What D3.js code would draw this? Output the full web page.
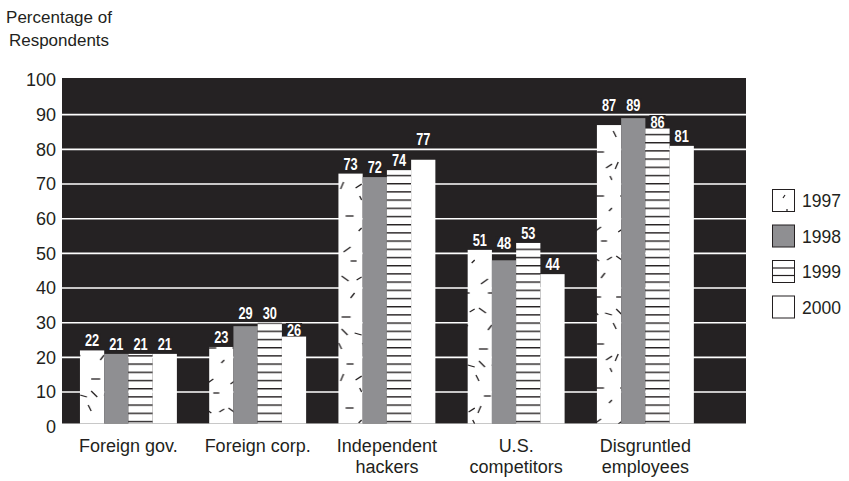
<!DOCTYPE html>
<html>
<head>
<meta charset="utf-8">
<script src="https://cdn.jsdelivr.net/npm/d3@7"></script>
<style>
  html, body { margin: 0; padding: 0; background: #fff; }
  svg { display: block; }
  text { font-family: "Liberation Sans", Arial, Helvetica, sans-serif; fill: #231f20; }
  .val { font-family: "Liberation Sans", Arial, sans-serif; font-weight: bold; fill: #fff; }
</style>
</head>
<body>
<svg id="chart" width="849" height="481"></svg>
<script>
// Threat sources, percentage of respondents by survey year
const categories = [
  ["Foreign gov."],
  ["Foreign corp."],
  ["Independent", "hackers"],
  ["U.S.", "competitors"],
  ["Disgruntled", "employees"]
];
const years = ["1997", "1998", "1999", "2000"];
const values1997 = [22, 23, 73, 51, 87];
const values1998 = [21, 29, 72, 48, 89];
const values1999 = [21, 30, 74, 53, 86];
const values2000 = [21, 26, 77, 44, 81];
const yTicks = [0, 10, 20, 30, 40, 50, 60, 70, 80, 90, 100];
const yTitle = ["Percentage of", "Respondents"];

const seriesValues = [values1997, values1998, values1999, values2000];
const BG = "#252223";
const INK = "#231f20";

const svg = d3.select("#chart");
const defs = svg.append("defs");

// Scales
const plot = { left: 62, right: 746, top: 78, bottom: 423.5 };
const x0 = d3.scaleBand().domain(d3.range(categories.length))
  .range([63.8, 710]).paddingInner(0.25).paddingOuter(0.125);
const x1 = d3.scaleBand().domain(years).range([0, x0.bandwidth()]);
const y = d3.scaleLinear().domain([0, 100]).range([426.7, 80]);

// Scattered dash fill for 1997 (one tile, shifted per group so the marks don't line up)
const dashTile = [
  [9, 2, 16, 2], [3, 19, 6, 12], [18, 18, 24, 14], [22, 26, 24, 30],
  [8, 46, 16, 46], [21, 61, 24, 58], [6, 82, 13, 77], [13, 91, 19, 91],
  [4, 106, 11, 111], [19, 110, 24, 107], [13, 128, 17, 123], [4, 147, 13, 147],
  [4, 159, 10, 165], [17, 163, 24, 165], [1, 173, 4, 179]
];
const TILE_H = 192;
const dashShift = [40, 110, 170, 10, 150];
categories.forEach((c, i) => {
  const p = defs.append("pattern")
    .attr("id", "pat1997-" + i).attr("patternUnits", "userSpaceOnUse")
    .attr("x", x0(i)).attr("y", dashShift[i])
    .attr("width", x1.bandwidth()).attr("height", TILE_H);
  p.append("rect").attr("width", x1.bandwidth()).attr("height", TILE_H).attr("fill", "#fff");
  dashTile.forEach(s => {
    p.append("line")
      .attr("x1", s[0]).attr("y1", s[1]).attr("x2", s[2]).attr("y2", s[3])
      .attr("stroke", INK).attr("stroke-width", 1.3);
  });
});

// Horizontal rule fill for 1999
const rule = defs.append("pattern")
  .attr("id", "pat1999").attr("patternUnits", "userSpaceOnUse")
  .attr("width", 10).attr("height", 8.2).attr("y", 2.6);
rule.append("rect").attr("width", 10).attr("height", 8.2).attr("fill", "#fff");
rule.append("rect").attr("y", 0).attr("width", 10).attr("height", 1.4).attr("fill", INK);

const fillFor = (k, i) => [`url(#pat1997-${i})`, "#8f8f92", "url(#pat1999)", "#ffffff"][k];

// Plot background and gridlines
svg.append("rect")
  .attr("x", plot.left).attr("y", plot.top)
  .attr("width", plot.right - plot.left).attr("height", plot.bottom - plot.top)
  .attr("fill", BG);

const gridValues = yTicks.filter(t => t > 0 && t < 100);
svg.append("g").selectAll("line")
  .data(gridValues)
  .join("line")
  .attr("x1", plot.left).attr("x2", plot.right)
  .attr("y1", d => y(d)).attr("y2", d => y(d))
  .attr("stroke", "#fff").attr("stroke-width", 1.6);

// Y axis labels
const yAxis = d3.axisLeft(y).tickValues(yTicks).tickSize(0).tickPadding(0);
const yg = svg.append("g").attr("transform", "translate(56,0)").call(yAxis);
yg.select(".domain").remove();
yg.selectAll("text").attr("font-size", 18).attr("fill", INK)
  .style("font-family", '"Liberation Sans", Arial, sans-serif');

// Y title
svg.append("text").attr("text-anchor", "middle").attr("font-size", 17)
  .selectAll("tspan").data(yTitle).join("tspan")
  .attr("x", 59).attr("y", (d, i) => 23 + i * 23).text(d => d);

// Bars (standing on the plot floor)
const groups = svg.append("g").selectAll("g")
  .data(categories.map((c, i) => i))
  .join("g")
  .attr("transform", i => `translate(${x0(i)},0)`);

groups.selectAll("rect")
  .data(i => years.map((yr, k) => ({ yr, k, i, v: seriesValues[k][i] })))
  .join("rect")
  .attr("x", d => x1(d.yr))
  .attr("y", d => y(d.v))
  .attr("width", x1.bandwidth())
  .attr("height", d => plot.bottom - y(d.v))
  .attr("fill", d => fillFor(d.k, d.i));

// Value labels: sit just above the bar, but never straddle a gridline
const CAP = 11.5;
function labelBaseline(v) {
  const top = y(v);
  let bl = top - 4;
  const hit = gridValues.map(y).find(g => g >= bl - CAP - 1 && g <= bl + 1);
  if (hit !== undefined) {
    bl = (top - hit >= CAP + 2) ? top - 1 : hit - 4;
  }
  return bl;
}

const labels = svg.append("g");
categories.forEach((c, i) => {
  years.forEach((yr, k) => {
    const v = seriesValues[k][i];
    const cx = x0(i) + x1(yr) + x1.bandwidth() / 2;
    const bl = labelBaseline(v);
    const g = labels.append("g").attr("transform", `translate(${cx},${bl})`);
    const plate = g.append("rect").attr("fill", BG);
    const t = g.append("text").attr("class", "val")
      .attr("transform", "scale(0.8,1)")
      .attr("text-anchor", "middle").attr("font-size", 16)
      .text(v);
    const b = t.node().getBBox();
    plate.attr("x", b.x * 0.8 - 1).attr("y", -CAP - 1)
      .attr("width", b.width * 0.8 + 2).attr("height", CAP + 1.5);
  });
});

// Category labels
svg.append("g").selectAll("text")
  .data(categories.map((c, i) => ({ c, i })))
  .join("text")
  .attr("text-anchor", "middle").attr("font-size", 18)
  .each(function (d) {
    d3.select(this).selectAll("tspan").data(d.c).join("tspan")
      .attr("x", x0(d.i) + x0.bandwidth() / 2)
      .attr("y", (t, j) => 452 + j * 21)
      .text(t => t);
  });

// Legend
const legend = svg.append("g").attr("transform", "translate(772,189)");
const lg = legend.selectAll("g").data(years).join("g")
  .attr("transform", (d, k) => `translate(0,${k * 35.5})`);
lg.append("rect")
  .attr("x", 0.5).attr("y", 0.5).attr("width", 22).attr("height", 22)
  .attr("fill", (d, k) => k === 1 ? "#8f8f92" : "#fff")
  .attr("stroke", INK).attr("stroke-width", 1);
lg.filter((d, k) => k === 2).each(function () {
  d3.select(this).selectAll("line.r").data([8, 15.5]).join("line")
    .attr("x1", 0.5).attr("x2", 22.5).attr("y1", d => d).attr("y2", d => d)
    .attr("stroke", INK).attr("stroke-width", 1.2);
});
lg.filter((d, k) => k === 0).each(function () {
  const s = d3.select(this);
  s.append("line").attr("x1", 11).attr("y1", 9).attr("x2", 13).attr("y2", 6)
    .attr("stroke", INK).attr("stroke-width", 1.2);
  s.append("line").attr("x1", 15).attr("y1", 20).attr("x2", 15).attr("y2", 22.5)
    .attr("stroke", INK).attr("stroke-width", 1.2);
});
lg.append("text").attr("x", 30).attr("y", 12).attr("dy", "0.35em")
  .attr("font-size", 17.5).text(d => d);
</script>
</body>
</html>
